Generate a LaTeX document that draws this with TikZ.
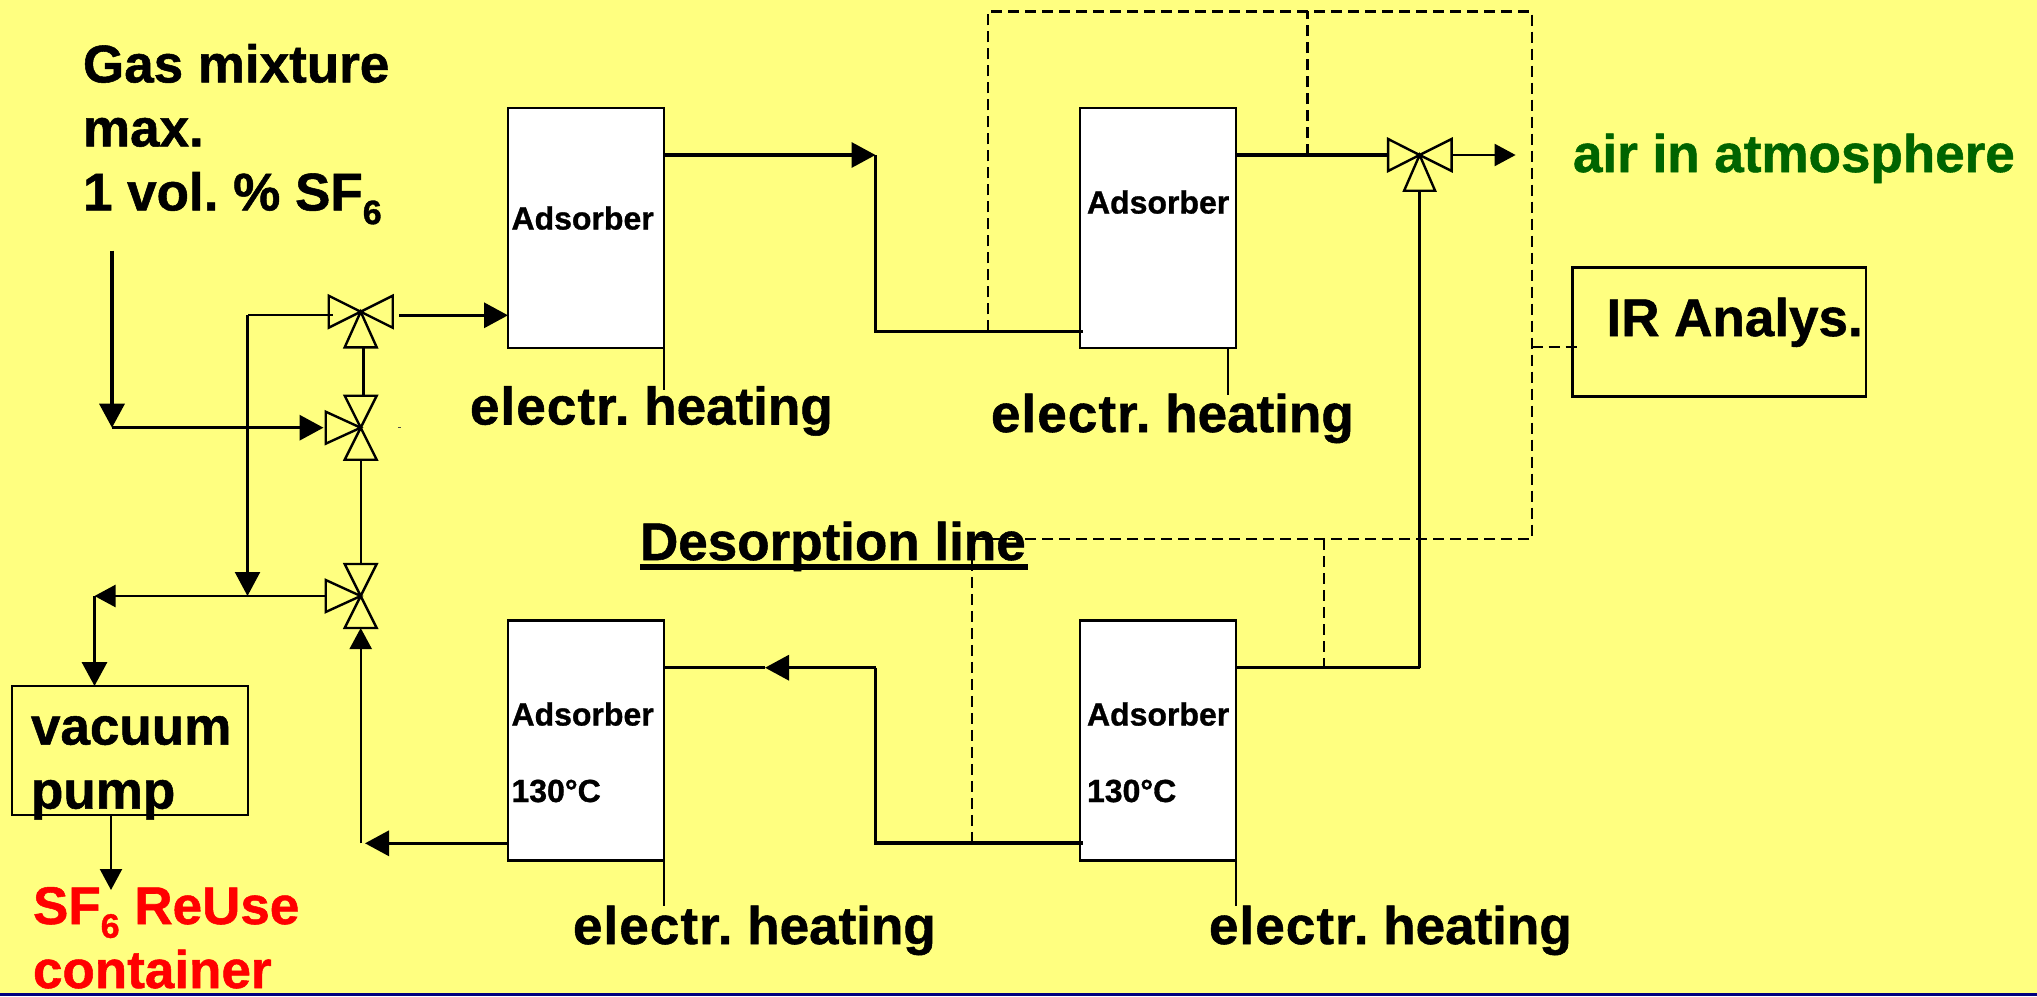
\documentclass[tikz,border=0pt]{standalone}
\usepackage{fontspec}
\setmainfont[BoldFeatures={FakeBold=1}]{Liberation Sans}
\usetikzlibrary{arrows.meta}
\definecolor{bgyellow}{RGB}{255,255,128}
\definecolor{navyline}{RGB}{0,0,128}
\definecolor{airgreen}{RGB}{0,100,0}
\newcommand{\subsix}{\raisebox{-0.26em}{\fontsize{34}{34}\selectfont 6}}
\newcommand{\elecword}{{\addfontfeature{LetterSpace=2}electr.}}
\newcommand{\valvetri}[3]{\draw[valveline] (#1) -- ++(#2) -- ++(#3) -- cycle;}
\tikzset{
  lbl/.style={inner sep=0pt,outer sep=0pt,anchor=base west,font=\bfseries\frenchspacing\fontsize{53}{65}\selectfont},
  mlbl/.style={inner sep=0pt,outer sep=0pt,anchor=north west,align=left,font=\bfseries\frenchspacing\fontsize{53}{64}\selectfont},
  small/.style={inner sep=0pt,outer sep=0pt,anchor=base west,font=\bfseries\fontsize{32}{32}\selectfont},
  adsbox/.style={draw=black,fill=white,line width=2.6pt,minimum width=156pt,minimum height=240pt,inner sep=0pt,outer sep=0pt,anchor=north west},
  plainbox/.style={draw=black,line width=2.6pt,inner sep=0pt,outer sep=0pt,anchor=north west},
  thin line/.style={line width=2.3pt,black},
  thick line/.style={line width=3.4pt,black},
  valveline/.style={line width=2.4pt,black,line join=miter,fill=none},
  dash line/.style={line width=2.4pt,black,dash pattern=on 11pt off 6pt},
  bigtip/.style={-{Triangle[length=24pt,width=25pt]}},
  smalltip/.style={-{Triangle[length=21pt,width=22pt]}},
}
\begin{document}
\begin{tikzpicture}[x=1pt,y=-1pt]
\useasboundingbox (0,0) rectangle (2037,996);
\fill[bgyellow] (0,0) rectangle (2037,996);
\fill[navyline] (0,992.8) rectangle (2037,996);

% adsorbers and boxes
\node[adsbox] (A1) at (508,107.8) {};
\node[adsbox] (A2) at (1080,107.8) {};
\node[adsbox] (A3) at (508,620.3) {};
\node[adsbox] (A4) at (1080,620.3) {};
\node[plainbox,minimum width=236pt,minimum height=129pt] (pump) at (12,686) {};
\node[plainbox,minimum width=293.5pt,minimum height=129pt] (ir) at (1572.5,267.7) {};

% valve centres
\coordinate (V1) at (360.7,311.7);
\coordinate (V2) at (360.7,427.7);
\coordinate (V3) at (360.7,596);
\coordinate (V4) at (1419.6,155);
% valve 1
\valvetri{V1}{-32,-16}{0,32}
\valvetri{V1}{32,-16}{0,32}
\valvetri{V1}{-16,35.6}{32,0}
% valve 2
\valvetri{V2}{-35,-16}{0,32}
\valvetri{V2}{-16,-32}{32,0}
\valvetri{V2}{-16,32}{32,0}
% valve 3
\valvetri{V3}{-35,-16}{0,32}
\valvetri{V3}{-16,-32}{32,0}
\valvetri{V3}{-16,32}{32,0}
% valve 4
\valvetri{V4}{-31.5,-16}{0,32}
\valvetri{V4}{32,-16}{0,32}
\valvetri{V4}{-15.5,35.7}{31,0}

% connection points
\coordinate (inTop) at (112,250.7);
\coordinate (inCorner) at (112,427.7);
\coordinate (V2L) at (323.5,427.7);
\coordinate (V1Ltap) at (332.7,315.3);
\coordinate (brTop) at (247.5,315.3);
\coordinate (brBot) at (247.5,596);
\coordinate (V3L) at (325.3,596);
\coordinate (pumpCorner) at (94.5,596);
\coordinate (V1Rout) at (399.3,315.3);
\coordinate (A1in) at (508,315.3);
\coordinate (V1B) at (363.3,347.3);
\coordinate (V2T) at (363.3,395.7);
\coordinate (V2B) at (360.7,459.7);
\coordinate (V3T) at (360.7,564);
\coordinate (V3B) at (360.7,628);
\coordinate (retCorner) at (360.7,843.3);
\coordinate (retTip) at (365,843.3);
\coordinate (A3out) at (508,843.3);
\coordinate (A1out) at (664,155);
\coordinate (c1) at (875.5,155);
\coordinate (c2) at (875.5,331.3);
\coordinate (A2in) at (1083,331.3);
\coordinate (A2out) at (1236,155);
\coordinate (V4L) at (1388,155);
\coordinate (V4R) at (1451.6,155);
\coordinate (airTip) at (1515.6,155);
\coordinate (A4out) at (1236,667.7);
\coordinate (upCorner) at (1419.6,667.7);
\coordinate (V4B) at (1419.6,190.7);
\coordinate (c3) at (875.5,667.7);
\coordinate (arrow3) at (765,667.7);
\coordinate (A3in) at (664,667.7);
\coordinate (c4) at (875.5,843);
\coordinate (A4in) at (1083,843);
\coordinate (pumpOut) at (111,815);
\coordinate (reuseTip) at (111,890);

% heating stubs
\coordinate (s1) at (664,390);
\coordinate (s2) at (1227.7,395);
\coordinate (s3) at (664,906);
\coordinate (s4) at (1236,906);
\draw[thin line] (A1.south east) -- (s1);
\draw[thin line] (A2.south -| s2) -- (s2);
\draw[thin line] (A3.south east) -- (s3);
\draw[thin line] (A4.south east) -- (s4);

% process lines
\draw[thick line,bigtip] (inTop) -- (inCorner);
\draw[thick line,bigtip] (inCorner) -- (V2L);
\draw[thin line,line cap=butt] (V1Ltap) -- (brTop);
\draw[thin line,bigtip] (brTop) -- (brBot);
\draw[thin line,smalltip] (V3L) -- (pumpCorner);
\draw[thick line,bigtip] (pumpCorner) -- (pump.north west -| pumpCorner);
\draw[thick line,bigtip] (V1Rout) -- (A1in);
\draw[line width=3.4pt] (V1B) -- (V2T);
\draw[thin line] (V2B) -- (V3T);
\draw[thin line,smalltip] (retCorner) -- (V3B);
\draw[thick line,bigtip] (A3out) -- (retTip);
\draw[thick line,bigtip] (A1out) -- (c1);
\draw[thick line] (c1) -- (c2) -- (A2in);
\draw[thick line] (A2out) -- (V4L);
\draw[thin line,smalltip] (V4R) -- (airTip);
\draw[thick line] (A4out) -- (upCorner);
\draw[thin line] (upCorner) -- (V4B);
\draw[thick line,bigtip] (c3) -- (arrow3);
\draw[thick line] (arrow3) -- (A3in);
\draw[thick line] (c3) -- (c4) -- (A4in);
\draw[thin line,smalltip] (pumpOut) -- (reuseTip);

% dashed lines
\coordinate (d1) at (988,331.3);
\coordinate (d2) at (988,11.3);
\coordinate (d3) at (1531.7,11.3);
\coordinate (d4) at (1531.7,539);
\coordinate (d5) at (972,539);
\coordinate (d6) at (972,843);
\coordinate (d7) at (1307.6,155);
\coordinate (d8) at (1307.6,11.3);
\coordinate (d9) at (1531.7,347);
\coordinate (d10) at (1579.5,347);
\coordinate (d11) at (1324,539);
\coordinate (d12) at (1324,667.7);
\draw[dash line] (d1) -- (d2) -- (d3) -- (d4) -- (d5) -- (d6);
\draw[dash line] (d7) -- (d8);
\draw[dash line] (d9) -- (d10);
\draw[dash line] (d11) -- (d12);

% stray mark
\fill[black!70] (398,426.8) rectangle (400.5,428);

% labels
\node[mlbl] (gas) at (83,44) {Gas mixture\\max.\\1 vol. \% SF\subsix};
\node[lbl] (h1) at (470,424.5) {\elecword{} heating};
\node[lbl] (h2) at (991,432) {\elecword{} heating};
\node[lbl] (h3) at (573,944) {\elecword{} heating};
\node[lbl] (h4) at (1209,944) {\elecword{} heating};
\node[lbl] (des) at (640,560) {\makebox[0pt][l]{\rule[-10pt]{388pt}{6.3pt}}Desorption line};
\node[lbl,text=airgreen] (air) at (1573,172) {air in atmosphere};
\node[lbl] (irt) at (1606.5,336) {IR Analys.};
\node[mlbl] (vac) at (31,716) {vacuum\\pump};
\node[mlbl,text=red] (reuse) at (33,887) {SF\subsix{} ReUse\\container};
\node[small] (t1) at (511.5,229.5) {Adsorber};
\node[small] (t2) at (1087,213.5) {Adsorber};
\node[small] (t3) at (511.5,725.5) {Adsorber};
\node[small] (t4) at (1087,725.5) {Adsorber};
\node[small] (t5) at (511.5,802) {130°C};
\node[small] (t6) at (1087,802) {130°C};
\end{tikzpicture}
\end{document}
